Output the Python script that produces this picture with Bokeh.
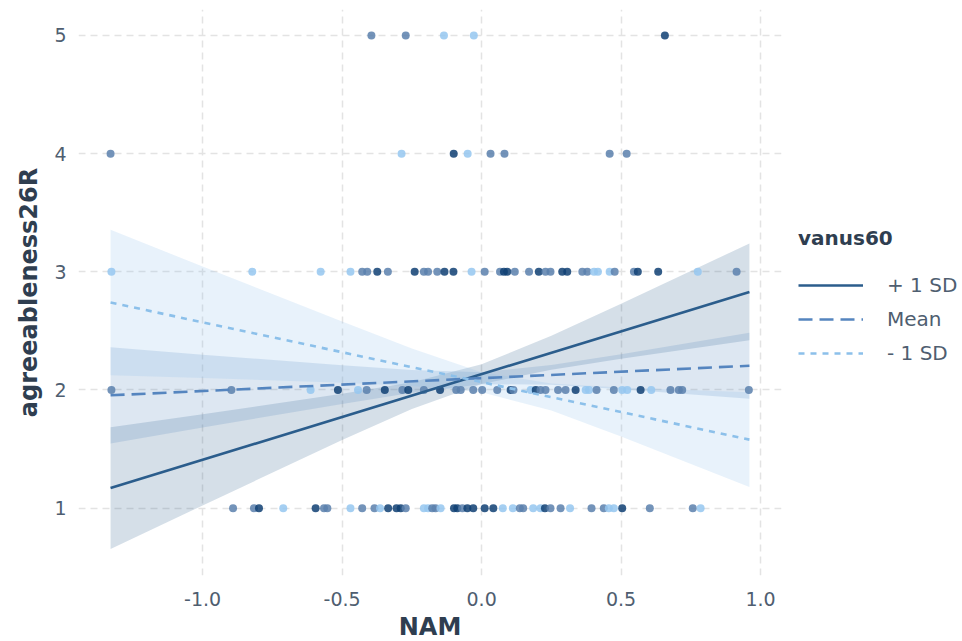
from bokeh.plotting import figure
from bokeh.models import Legend, LegendItem, FixedTicker, ColumnDataSource
from bokeh.layouts import row
from bokeh.embed import file_html
from bokeh.resources import INLINE

# ---------------- data ----------------
groups = ["+ 1 SD", "Mean", "- 1 SD"]

# regression lines (endpoints of NAM range)
line_x = [-1.33, 0.96]
line_plus = [1.17, 2.83]
line_mean = [1.955, 2.205]
line_minus = [2.74, 1.58]

# confidence bands read at these NAM values
band_x = [-1.33, -1.0, -0.5, -0.25, 0.0, 0.25, 0.5, 0.96]
plus_hi = [1.685, 1.795, 1.968, 2.066, 2.217, 2.459, 2.730, 3.24]
plus_lo = [0.655, 1.023, 1.576, 1.840, 2.051, 2.171, 2.264, 2.42]
mean_hi = [2.362, 2.299, 2.210, 2.170, 2.151, 2.211, 2.303, 2.485]
mean_lo = [1.548, 1.683, 1.882, 1.976, 2.049, 2.045, 2.007, 1.925]
minus_hi = [3.355, 3.045, 2.579, 2.352, 2.151, 2.054, 2.020, 1.98]
minus_lo = [2.125, 2.101, 2.061, 2.034, 1.981, 1.826, 1.606, 1.18]

# observed points (NAM, agreeableness26R, shade d/m/l)
row1_x = [-0.891, -0.816, -0.798, -0.711, -0.595, -0.565, -0.553, -0.470, -0.428, -0.384,
          -0.364, -0.335, -0.305, -0.290, -0.272, -0.207, -0.192, -0.177, -0.165, -0.147,
          -0.099, -0.087, -0.069, -0.051, -0.030, 0.011, 0.042, 0.076, 0.112, 0.137,
          0.149, 0.185, 0.211, 0.227, 0.247, 0.283, 0.317, 0.394, 0.438, 0.456,
          0.474, 0.504, 0.603, 0.757, 0.785]
row1_s = list("mmdldmmlmmldddmllmmlddmddddllmmlldmmlmmlldmml")
row2_x = [-1.327, -0.897, -0.613, -0.515, -0.443, -0.412, -0.347, -0.284, -0.263, -0.207,
          -0.149, -0.091, -0.075, -0.030, 0.002, 0.056, 0.104, 0.114, 0.176, 0.194,
          0.211, 0.229, 0.274, 0.301, 0.337, 0.373, 0.385, 0.412, 0.474, 0.504,
          0.522, 0.570, 0.608, 0.677, 0.707, 0.719, 0.958]
row2_s = list("mmldlmdmdmdmmmmmdmldmmmmdllmmlldlmmmm")
row3_x = [-1.327, -0.822, -0.577, -0.470, -0.428, -0.410, -0.374, -0.336, -0.240, -0.207,
          -0.192, -0.159, -0.133, -0.101, -0.036, 0.011, 0.066, 0.080, 0.092, 0.119,
          0.170, 0.205, 0.229, 0.247, 0.289, 0.307, 0.361, 0.379, 0.403, 0.417,
          0.459, 0.477, 0.546, 0.560, 0.633, 0.775, 0.914]
row3_s = list("llllmmdmdmmmddlmmddmmdmmddmmlllmmddlm")
row4_x = [-1.330, -0.287, -0.100, -0.050, 0.032, 0.082, 0.459, 0.520]
row4_s = list("mldlmmmm")
row5_x = [-0.395, -0.272, -0.135, -0.028, 0.657]
row5_s = list("mmlld")

x_ticks = [-1.0, -0.5, 0.0, 0.5, 1.0]
x_tick_labels = ["-1.0", "-0.5", "0.0", "0.5", "1.0"]
y_ticks = [1, 2, 3, 4, 5]

# ---------------- style ----------------
FONT = "DejaVu Sans"
line_colors = ["#2b5d8c", "#5585bf", "#8cc0ea"]
line_dashes = ["solid", "14 7", "6 6"]
band_colors = ["#2b5d8c", "#5585bf", "#8cc0ea"]
shade_colors = {"d": "#0f3f73", "m": "#5a80ad", "l": "#95c7f0"}
TITLE_COL = "#2f3e50"
TICK_COL = "#4f5e70"
TOTAL_H = 641

p = figure(frame_width=703, frame_height=566, x_range=(-1.445, 1.075), y_range=(0.43, 5.22),
           output_backend="svg", toolbar_location=None,
           min_border_left=78, min_border_right=5, min_border_top=9, min_border_bottom=66)
p.outline_line_color = None
p.background_fill_color = "white"
p.border_fill_color = "white"

# bands
for lo, hi, c in [(plus_lo, plus_hi, band_colors[0]),
                  (mean_lo, mean_hi, band_colors[1]),
                  (minus_lo, minus_hi, band_colors[2])]:
    p.varea(x=band_x, y1=lo, y2=hi, fill_color=c, fill_alpha=0.2)

# points
px, py, pc = [], [], []
for yv, xs, ss in [(1, row1_x, row1_s), (2, row2_x, row2_s), (3, row3_x, row3_s),
                   (4, row4_x, row4_s), (5, row5_x, row5_s)]:
    for xv, sv in zip(xs, ss):
        px.append(xv)
        py.append(yv)
        pc.append(shade_colors[sv])
src = ColumnDataSource(dict(x=px, y=py, c=pc))
p.scatter("x", "y", source=src, size=8, fill_color="c", line_color=None, fill_alpha=0.85)

# lines
for ys, c, d in zip([line_plus, line_mean, line_minus], line_colors, line_dashes):
    p.line(line_x, ys, line_color=c, line_width=2.6, line_dash=d)

# axes
p.xaxis.ticker = FixedTicker(ticks=x_ticks)
p.xaxis.major_label_overrides = {t: s for t, s in zip(x_ticks, x_tick_labels)}
p.yaxis.ticker = FixedTicker(ticks=y_ticks)
for ax in (p.xaxis, p.yaxis):
    ax.axis_line_color = None
    ax.major_tick_line_color = None
    ax.minor_tick_line_color = None
    ax.major_label_text_font = FONT
    ax.major_label_text_font_size = "19px"
    ax.major_label_text_color = TICK_COL
    ax.axis_label_text_font = FONT
    ax.axis_label_text_font_size = "24px"
    ax.axis_label_text_font_style = "bold"
    ax.axis_label_text_color = TITLE_COL
p.xaxis.axis_label = "NAM"
p.yaxis.axis_label = "agreeableness26R"
p.xaxis.major_label_standoff = 10
p.xaxis.axis_label_standoff = 4
p.yaxis.major_label_standoff = 6
p.yaxis.axis_label_standoff = 8

for g in (p.xgrid, p.ygrid):
    g.grid_line_color = "#e3e3e3"
    g.grid_line_width = 1.5
    g.grid_line_dash = "7 5"
p.xgrid.ticker = FixedTicker(ticks=x_ticks)
p.ygrid.ticker = FixedTicker(ticks=y_ticks)

# legend panel (separate figure placed to the right)
pl = figure(width=176, height=TOTAL_H, x_range=(0, 1), y_range=(0, 1),
            x_axis_type=None, y_axis_type=None, output_backend="svg", toolbar_location=None,
            min_border_left=0, min_border_right=0, min_border_top=0, min_border_bottom=0)
pl.outline_line_color = None
pl.xgrid.visible = False
pl.ygrid.visible = False
items = []
for g, c, d in zip(groups, line_colors, line_dashes):
    # off-range keys so that only the legend glyph shows
    r = pl.line([5, 6], [5, 6], line_color=c, line_width=2.6, line_dash=d)
    items.append(LegendItem(label=g, renderers=[r]))
legend = Legend(items=items, title="vanus60", location=(12, TOTAL_H - 433))
legend.title_text_font = FONT
legend.title_text_font_size = "20px"
legend.title_text_font_style = "bold"
legend.title_text_color = TITLE_COL
legend.title_standoff = 23
legend.label_text_font = FONT
legend.label_text_font_size = "20px"
legend.label_text_color = TICK_COL
legend.glyph_width = 65
legend.glyph_height = 20
legend.label_standoff = 24
legend.spacing = 10
legend.margin = 0
legend.padding = 5
legend.border_line_color = None
legend.background_fill_alpha = 0
pl.add_layout(legend, "center")

layout = row(p, pl)
open("out.html", "w").write(file_html(layout, INLINE))
